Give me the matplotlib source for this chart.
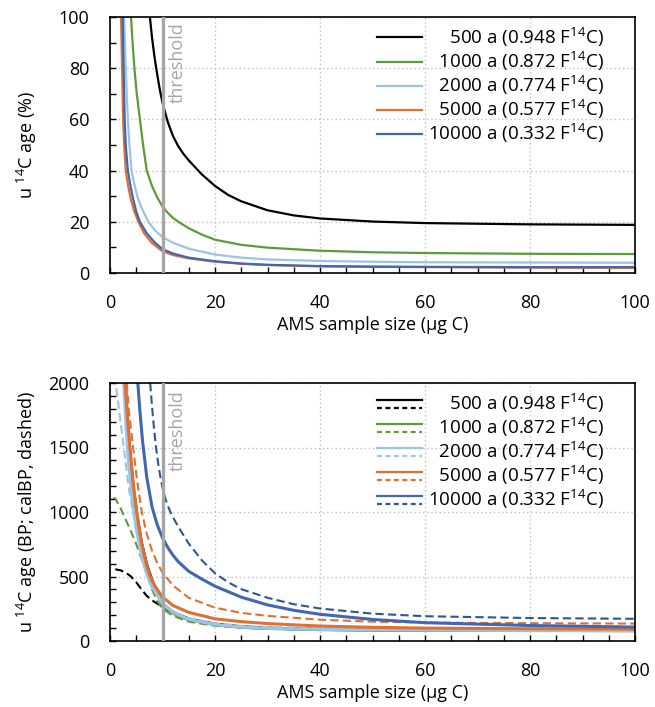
import matplotlib
matplotlib.use("Agg")
import matplotlib.pyplot as plt
from matplotlib.lines import Line2D
from matplotlib.legend_handler import HandlerBase
from matplotlib.ticker import MultipleLocator

plt.rcParams['font.family'] = ['Open Sans', 'DejaVu Sans']
plt.rcParams['mathtext.fontset'] = 'custom'
plt.rcParams['mathtext.rm'] = 'Open Sans'
plt.rcParams['mathtext.it'] = 'Open Sans'
plt.rcParams['mathtext.bf'] = 'Open Sans'
FS = 13

# ---- data ----
ages = [500, 1000, 2000, 5000, 10000]
f14c = [0.948, 0.872, 0.774, 0.577, 0.332]
colors = ['#000000', '#5e9a3c', '#9dc3e6', '#e07030', '#4067b0']
dash_colors = ['#000000', '#5e9a3c', '#9dc3e6', '#e07030', '#2f5597']

# top panel: relative uncertainty (%)
x_500_pct = [7.6, 8, 8.5, 9, 9.5, 10, 11, 12, 13, 14, 15, 17.5, 20, 22.5, 25, 30, 35, 40, 50, 60, 80, 100]
u_500_pct = [100, 92, 84, 77.5, 71.5, 66.5, 59, 53.5, 49.5, 46.5, 44, 38.5, 34, 30.5, 28, 24.5, 22.5, 21.3, 20.1, 19.5, 19, 18.8]
x_1000_pct = [4.0, 4.3, 4.65, 5.1, 5.7, 6.3, 7.0, 8, 9, 10, 11, 12, 13.4, 15, 17.5, 20, 25, 30, 40, 50, 60, 80, 100]
u_1000_pct = [100, 90, 80, 70, 60, 50, 40, 34, 29.5, 26, 23.5, 21.5, 19.5, 17.5, 15, 13, 11, 9.9, 8.7, 8.1, 7.8, 7.5, 7.4]
x_2000_pct = [2.7, 2.85, 3.0, 3.2, 3.4, 3.7, 4.1, 4.6, 5.2, 6, 7.3, 8.5, 10, 12, 15, 20, 25, 30, 40, 50, 60, 80, 100]
u_2000_pct = [100, 90, 80, 70, 60, 50, 40, 35, 30, 25.5, 20, 16.8, 14, 11.8, 9.5, 7.2, 6, 5.3, 4.7, 4.4, 4.2, 4.1, 4.0]
x_5000_pct = [2.1, 2.2, 2.3, 2.4, 2.5, 2.7, 3.0, 3.5, 4.0, 4.6, 5.4, 6.5, 8, 10, 12, 15, 20, 25, 30, 40, 50, 60, 80, 100]
u_5000_pct = [100, 90, 80, 70, 60, 50, 40, 33.5, 28.5, 24.3, 20, 15.5, 11.7, 8.5, 7, 5.7, 4.4, 3.6, 3.1, 2.6, 2.4, 2.3, 2.1, 2.0]
x_10000_pct = [2.45, 2.5, 2.6, 2.7, 2.8, 3.0, 3.4, 3.9, 4.4, 5.0, 5.7, 7, 8.5, 10, 12, 15, 20, 25, 30, 40, 50, 60, 80, 100]
u_10000_pct = [100, 90, 80, 70, 60, 50, 40, 34, 29, 24, 20, 15.5, 12, 9.3, 7.6, 6.0, 4.6, 3.7, 3.2, 2.7, 2.5, 2.4, 2.3, 2.3]

# bottom panel: absolute uncertainty, BP (solid)
x_500_bp = [2.9, 3.3, 3.8, 4.4, 5.1, 6, 7, 8, 10, 12, 15, 20, 25, 30, 40, 50, 60, 80, 100]
u_500_bp = [2000, 1720, 1450, 1200, 980, 760, 590, 470, 285, 222, 170, 130, 110, 100, 90, 86, 84, 82, 81]
x_1000_bp = [2.8, 3.2, 3.7, 4.3, 5.0, 6, 7, 8, 10, 12, 15, 20, 25, 30, 40, 50, 60, 80, 100]
u_1000_bp = [2000, 1720, 1450, 1200, 980, 750, 580, 460, 280, 215, 165, 126, 106, 97, 88, 85, 83, 81, 80]
x_2000_bp = [2.6, 3.0, 3.5, 4.2, 5, 6, 7, 8, 10, 12, 15, 20, 25, 30, 40, 50, 60, 80, 100]
u_2000_bp = [2000, 1700, 1400, 1100, 870, 660, 520, 420, 290, 222, 168, 127, 107, 98, 90, 86, 84, 82, 81]
x_5000_bp = [2.9, 3.3, 3.8, 4.4, 5.1, 6, 7, 7.65, 8.5, 10, 12, 15, 20, 25, 30, 40, 50, 60, 80, 100]
u_5000_bp = [2000, 1750, 1500, 1230, 1000, 760, 580, 500, 430, 340, 275, 222, 172, 150, 135, 116, 106, 100, 95, 92]
x_10000_bp = [5.3, 5.7, 6.2, 7.0, 8.0, 9, 10, 11, 12, 13, 15, 17.5, 20, 25, 30, 35, 40, 50, 60, 80, 100]
u_10000_bp = [2000, 1780, 1550, 1270, 1040, 900, 800, 725, 665, 615, 540, 480, 425, 340, 280, 238, 207, 167, 142, 120, 108]

# bottom panel: absolute uncertainty, calBP (dashed)
x_500_cal = [1.0, 2, 3, 4, 5, 6, 7, 8, 9, 10, 12, 15, 20, 25, 30, 40, 50, 60, 80, 100]
u_500_cal = [556, 548, 530, 500, 455, 400, 350, 315, 290, 265, 215, 168, 130, 108, 98, 90, 86, 84, 82, 81]
x_1000_cal = [0.6, 1, 2, 3, 4, 5, 6, 7, 8, 9, 10, 12, 15, 20, 25, 30, 40, 50, 60, 80, 100]
u_1000_cal = [1110, 1105, 1030, 940, 850, 750, 640, 520, 400, 310, 250, 195, 150, 118, 102, 95, 90, 88, 87, 86, 85]
x_2000_cal = [1.2, 2, 2.6, 3, 3.5, 4.4, 5, 6, 6.7, 8, 10, 12, 15, 20, 25, 30, 40, 50, 60, 80, 100]
u_2000_cal = [1960, 1700, 1510, 1380, 1200, 1000, 860, 690, 580, 450, 300, 230, 178, 138, 118, 108, 100, 97, 95, 93, 92]
x_5000_cal = [3.2, 3.6, 4.4, 5.2, 6.05, 7, 8, 9, 10, 12, 15, 20, 25, 30, 40, 50, 60, 80, 100]
u_5000_cal = [2000, 1780, 1500, 1230, 1000, 830, 700, 605, 530, 430, 335, 258, 218, 195, 165, 150, 143, 138, 135]
x_10000_cal = [7.65, 8.0, 8.4, 8.8, 9.2, 9.6, 10, 10.5, 11, 11.5, 12, 13, 14, 15, 17.5, 20, 22.5, 25, 30, 35, 40, 50, 60, 80, 100]
u_10000_cal = [2000, 1820, 1640, 1490, 1370, 1270, 1190, 1110, 1050, 1000, 960, 885, 820, 755, 625, 525, 455, 402, 335, 285, 252, 212, 192, 178, 172]

threshold = 10

pct_series = [(x_500_pct, u_500_pct), (x_1000_pct, u_1000_pct), (x_2000_pct, u_2000_pct),
              (x_5000_pct, u_5000_pct), (x_10000_pct, u_10000_pct)]
bp_series = [(x_500_bp, u_500_bp), (x_1000_bp, u_1000_bp), (x_2000_bp, u_2000_bp),
             (x_5000_bp, u_5000_bp), (x_10000_bp, u_10000_bp)]
cal_series = [(x_500_cal, u_500_cal), (x_1000_cal, u_1000_cal), (x_2000_cal, u_2000_cal),
              (x_5000_cal, u_5000_cal), (x_10000_cal, u_10000_cal)]

# right-align the labels by padding with figure spaces (digit width)
width = max(len(str(a)) for a in ages)
labels = ["\u2007" * (width - len(str(a))) + f"{a} a ({f:.3f} F$^{{14}}$C)"
          for a, f in zip(ages, f14c)]


class SolidDashHandler(HandlerBase):
    # legend key: solid line on top, dashed line below
    def create_artists(self, legend, orig_handle, xdescent, ydescent,
                       width, height, fontsize, trans):
        solid, dashed = orig_handle
        x = [-xdescent, width - xdescent]
        out = []
        for ln, frac in ((solid, 0.8), (dashed, 0.2)):
            y = height * frac - ydescent
            l = Line2D(x, [y, y], color=ln.get_color(), lw=1.6,
                       linestyle=ln.get_linestyle(), transform=trans)
            if ln.get_linestyle() != '-':
                l.set_dashes((2.2, 1.6))
            out.append(l)
        return out


def style_axes(ax, ymax, ymajor, yminor):
    ax.set_xlim(0, 100)
    ax.set_ylim(0, ymax)
    ax.xaxis.set_major_locator(MultipleLocator(20))
    ax.xaxis.set_minor_locator(MultipleLocator(5))
    ax.yaxis.set_major_locator(MultipleLocator(ymajor))
    ax.yaxis.set_minor_locator(MultipleLocator(yminor))
    ax.tick_params(which='both', direction='in', length=4.5, width=1, color='black',
                   top=False, right=False, labelsize=FS, pad=15)
    ax.grid(True, which='major', color='#c0c0c0', linestyle=(0, (1, 2)), lw=1)
    ax.set_axisbelow(True)
    for s in ax.spines.values():
        s.set_color('black')
        s.set_linewidth(1.2)
    ax.set_xlabel("AMS sample size (µg C)", fontsize=FS, labelpad=3)
    ax.yaxis.set_label_coords(-0.135, 0.5)


fig = plt.figure(figsize=(6.55, 7.07), dpi=100)
ax1 = fig.add_axes([110 / 655, 1 - 273 / 707, 525 / 655, 256 / 707])
ax2 = fig.add_axes([110 / 655, 1 - 641 / 707, 525 / 655, 258 / 707])

leg_kw = dict(loc='upper right', bbox_to_anchor=(0.94, 0.965), frameon=False,
              fontsize=13.5, handlelength=2.4, handletextpad=0.3, labelspacing=0.05,
              borderpad=0, borderaxespad=0)

# top panel
for (x, u), c, lab in zip(pct_series, colors, labels):
    ax1.plot(x, u, color=c, lw=1.6, label=lab, zorder=2)
ax1.axvline(threshold, color='#a6a6a6', lw=2.4, zorder=3)
ax1.text(11.2, 98, "threshold", rotation=90, color='#a6a6a6', fontsize=FS,
         ha='left', va='top')
style_axes(ax1, 100, 20, 10)
ax1.set_ylabel("u $^{14}$C age (%)", fontsize=FS)
ax1.legend(**leg_kw)

# bottom panel
handles = []
for (xs, us), (xd, ud), c, cd in zip(bp_series, cal_series, colors, dash_colors):
    ld, = ax2.plot(xd, ud, color=cd, lw=1.5, linestyle='--', dashes=(4, 2), zorder=2)
    ls_, = ax2.plot(xs, us, color=c, lw=2.2, zorder=2)
    handles.append((ls_, ld))
ax2.axvline(threshold, color='#a6a6a6', lw=2.4, zorder=3)
ax2.text(11.2, 1945, "threshold", rotation=90, color='#a6a6a6', fontsize=FS,
         ha='left', va='top')
style_axes(ax2, 2000, 500, 100)
ax2.set_ylabel("u $^{14}$C age (BP; calBP, dashed)", fontsize=FS)
ax2.legend(handles, labels, handler_map={tuple: SolidDashHandler()}, **leg_kw)

fig.savefig("out.png", dpi=100)
